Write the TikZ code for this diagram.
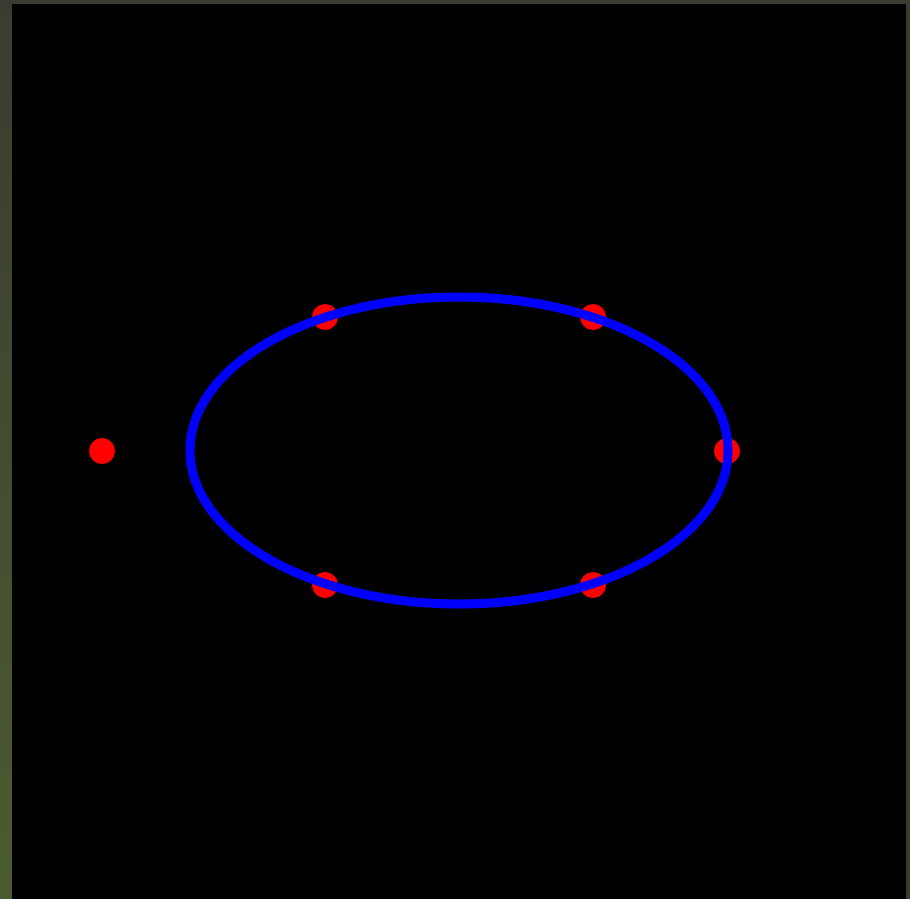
\documentclass[tikz,border=0pt]{standalone}
\begin{document}
\begin{tikzpicture}[x=1pt,y=-1pt,
  dot/.style={circle,fill={rgb,255:red,255;green,0;blue,0},inner sep=0pt,minimum size=26pt},
  ring/.style={draw={rgb,255:red,0;green,0;blue,255},line width=9pt}]
\definecolor{frametop}{RGB}{58,60,48}
\definecolor{framebot}{RGB}{76,92,48}
\useasboundingbox (0,0) rectangle (910,899);
\fill[frametop] (0,0) rectangle (910,899);
\shade[top color=frametop,bottom color=framebot] (0,0) rectangle (12,899);
\fill[black] (12,4) rectangle (906,899);
\node[dot] (p0) at (727,451) {};
\node[dot] (p1) at (593,317) {};
\node[dot] (p2) at (325,317) {};
\node[dot] (p3) at (102,451) {};
\node[dot] (p4) at (325,585) {};
\node[dot] (p5) at (593,585) {};
\draw[ring] (459,450.5) ellipse [x radius=269, y radius=153.5];
\end{tikzpicture}
\end{document}
